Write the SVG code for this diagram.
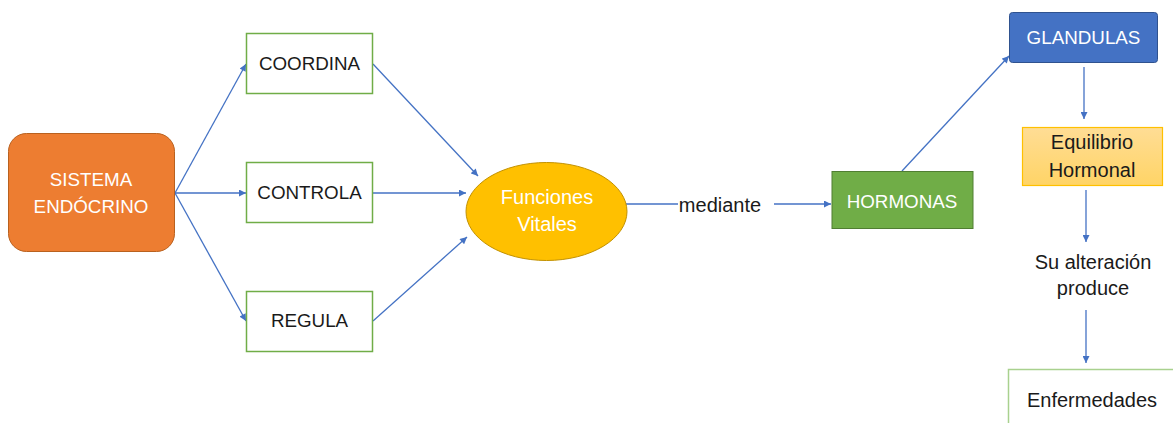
<svg xmlns="http://www.w3.org/2000/svg" width="1173" height="423" viewBox="0 0 1173 423">
  <defs>
    <marker id="arr" viewBox="0 0 10 10" refX="10" refY="5" markerWidth="8" markerHeight="7" markerUnits="userSpaceOnUse" orient="auto">
      <path d="M0,0 L10,5 L0,10 z" fill="#4472C4"/>
    </marker>
    <linearGradient id="gold" x1="0" y1="0" x2="0" y2="1">
      <stop offset="0" stop-color="#FFDD95"/>
      <stop offset="1" stop-color="#FFD466"/>
    </linearGradient>
  </defs>
  <style>
    text { font-family: "Liberation Sans", Arial, sans-serif; text-anchor: middle; }
    .caps { font-size: 18.8px; }
    .low { font-size: 20px; }
    .dark { fill: #1a1a1a; }
    .white { fill: #ffffff; }
    .gbox { fill: #ffffff; stroke: #70AD47; stroke-width: 1.5; }
    .conn { stroke: #4472C4; stroke-width: 1.3; fill: none; }
  </style>
  <rect width="1173" height="423" fill="#ffffff"/>

  <g id="connectors">
    <line class="conn" x1="175" y1="193" x2="246" y2="64" marker-end="url(#arr)"/>
    <line class="conn" x1="175" y1="193" x2="246" y2="193" marker-end="url(#arr)"/>
    <line class="conn" x1="175" y1="193" x2="246" y2="321" marker-end="url(#arr)"/>
    <line class="conn" x1="373" y1="64" x2="478" y2="176" marker-end="url(#arr)"/>
    <line class="conn" x1="373" y1="193" x2="466" y2="193" marker-end="url(#arr)"/>
    <line class="conn" x1="373" y1="321" x2="467" y2="237" marker-end="url(#arr)"/>
    <line class="conn" x1="626" y1="204" x2="678" y2="204"/>
    <line class="conn" x1="774" y1="204" x2="831" y2="204" marker-end="url(#arr)"/>
    <line class="conn" x1="902" y1="171" x2="1009" y2="56" marker-end="url(#arr)"/>
    <line class="conn" x1="1084" y1="67" x2="1084" y2="119" marker-end="url(#arr)"/>
    <line class="conn" x1="1086" y1="190" x2="1086" y2="242" marker-end="url(#arr)"/>
    <line class="conn" x1="1086" y1="310" x2="1086" y2="363" marker-end="url(#arr)"/>
  </g>

  <g id="sistema">
    <rect x="8.5" y="133.5" width="166" height="118" rx="18" fill="#ED7D31" stroke="#B9611F" stroke-width="1"/>
    <text class="caps white" x="91" y="186">SISTEMA</text>
    <text class="caps white" x="91" y="213">ENDÓCRINO</text>
  </g>

  <g id="coordina">
    <rect class="gbox" x="246.5" y="33.5" width="126" height="60"/>
    <text class="caps dark" x="309.5" y="70">COORDINA</text>
  </g>
  <g id="controla">
    <rect class="gbox" x="246.5" y="162.5" width="126" height="60"/>
    <text class="caps dark" x="309.5" y="199">CONTROLA</text>
  </g>
  <g id="regula">
    <rect class="gbox" x="246.5" y="291.5" width="126" height="60"/>
    <text class="caps dark" x="309.5" y="327">REGULA</text>
  </g>

  <g id="funciones">
    <ellipse cx="546.5" cy="211.5" rx="80.5" ry="49" fill="#FFC000" stroke="#C29100" stroke-width="1"/>
    <text class="low white" x="547" y="204">Funciones</text>
    <text class="low white" x="547" y="231">Vitales</text>
  </g>

  <g id="mediante">
    <text class="low dark" x="720" y="212">mediante</text>
  </g>

  <g id="hormonas">
    <rect x="832" y="171.5" width="141" height="57" fill="#70AD47" stroke="#507E32" stroke-width="1"/>
    <text class="caps white" x="902" y="208">HORMONAS</text>
  </g>

  <g id="glandulas">
    <rect x="1009.5" y="12.5" width="148" height="50" rx="3" fill="#4472C4" stroke="#2F528F" stroke-width="1"/>
    <text class="caps white" x="1083.5" y="44">GLANDULAS</text>
  </g>

  <g id="equilibrio">
    <rect x="1022.5" y="127.5" width="140" height="58" fill="url(#gold)" stroke="#FFC000" stroke-width="1.2"/>
    <text class="low dark" x="1092" y="149">Equilibrio</text>
    <text class="low dark" x="1092" y="177">Hormonal</text>
  </g>

  <g id="alteracion">
    <text class="low dark" x="1093" y="269">Su alteración</text>
    <text class="low dark" x="1093" y="295">produce</text>
  </g>

  <g id="enfermedades">
    <rect x="1008.5" y="369.5" width="180" height="70" fill="#ffffff" stroke="#A9D18E" stroke-width="1.5"/>
    <text class="low dark" x="1092" y="407">Enfermedades</text>
  </g>
</svg>
